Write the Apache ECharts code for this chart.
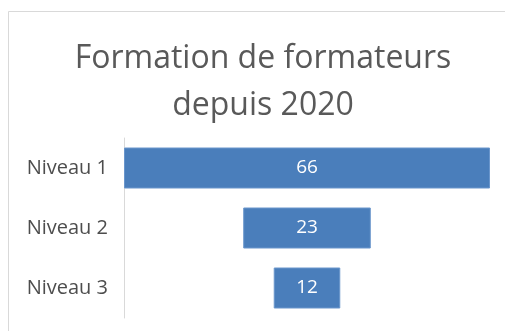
<!DOCTYPE html>
<html>
<head>
<meta charset="utf-8">
<style>
  html, body { margin: 0; padding: 0; background: #ffffff; }
  #chart { width: 505px; height: 331px; }
</style>
<script src="https://cdn.jsdelivr.net/npm/echarts@6/dist/echarts.min.js"></script>
</head>
<body>
<div id="chart"></div>
<script>
// Funnel-style horizontal bars: each bar is centred on the widest level
const categories = ['Niveau 1', 'Niveau 2', 'Niveau 3'];
const values = [66, 23, 12];

const maxValue = Math.max(...values);
// invisible spacer that pushes each bar so it sits centred
const offsets = values.map(v => (maxValue - v) / 2);

const chart = echarts.init(document.getElementById('chart'), null, { renderer: 'canvas' });

chart.setOption({
  animation: false,
  backgroundColor: '#ffffff',
  title: {
    text: 'Formation de formateurs\ndepuis 2020',
    left: 258,
    textAlign: 'center',
    top: 30,
    textStyle: {
      fontFamily: 'Open Sans',
      fontWeight: 'normal',
      fontSize: 32,
      lineHeight: 47,
      color: '#595959'
    }
  },
  graphic: [{
    type: 'rect',
    shape: { x: 8.5, y: 11.5, width: 600, height: 400 },
    style: { fill: 'none', stroke: '#d9d9d9', lineWidth: 1 },
    silent: true
  }],
  grid: { left: 124, right: 15, top: 138, bottom: 13 },
  xAxis: {
    type: 'value',
    min: 0,
    max: maxValue,
    show: false
  },
  yAxis: {
    type: 'category',
    data: categories,
    inverse: true,
    axisLine: { show: true, lineStyle: { color: '#d9d9d9', width: 1 } },
    axisTick: { show: false },
    axisLabel: {
      margin: 16,
      fontFamily: 'Open Sans',
      fontSize: 20,
      color: '#4d4d4d'
    },
    splitLine: { show: false }
  },
  series: [
    {
      type: 'bar',
      stack: 'funnel',
      data: offsets,
      itemStyle: { color: 'transparent' },
      silent: true,
      barWidth: 41
    },
    {
      type: 'bar',
      stack: 'funnel',
      data: values,
      barWidth: 41,
      itemStyle: { color: '#4a7ebb', borderColor: '#6a96cc', borderWidth: 1 },
      label: {
        show: true,
        position: 'inside',
        fontFamily: 'Open Sans',
        fontSize: 19,
        color: '#ffffff'
      }
    }
  ]
});
</script>
</body>
</html>
